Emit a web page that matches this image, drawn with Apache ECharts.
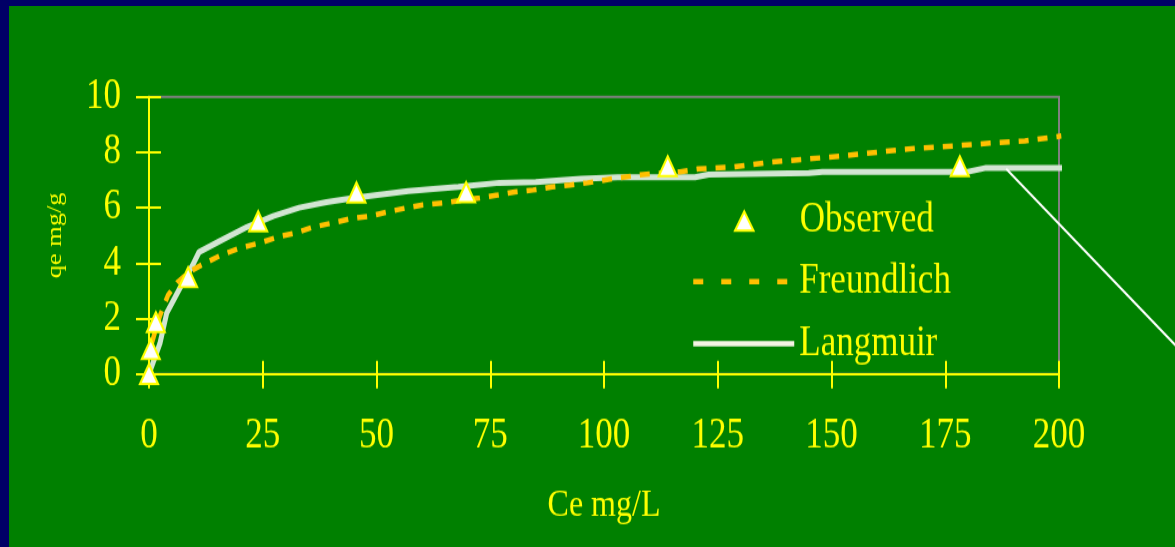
<!DOCTYPE html>
<html>
<head>
<meta charset="utf-8">
<script src="https://cdn.jsdelivr.net/npm/echarts@6/dist/echarts.min.js"></script>
<style>
  html, body { margin: 0; padding: 0; background: #000066; width: 1175px; height: 547px; overflow: hidden; }
  #wrap { position: absolute; left: 9px; top: 6px; width: 1166px; height: 541px; background: #008000; overflow: hidden; }
  #chart { width: 1166px; height: 451px; transform: scaleY(1.19956); transform-origin: 0 0; }
</style>
</head>
<body>
<div id="wrap"><div id="chart"></div></div>
<script>
// ---- data ----
const seriesNames = ['Observed', 'Freundlich', 'Langmuir'];
const xTitle = 'Ce mg/L';
const yTitle = 'qe mg/g';

const observedCe = [0, 0.4, 1.5, 8.6, 24, 45.6, 69.7, 114, 178.2];
const observedQe = [0, 0.89, 1.87, 3.49, 5.51, 6.55, 6.56, 7.5, 7.5];

const freundlichCe = [0.6, 1.3, 2.4, 4.2, 6.2, 9, 12.3, 16, 20, 24.4, 28.4, 32.5, 36, 40.3, 44.2, 48.6, 52.5, 56.7, 60.2, 64.6, 69, 72.7, 76.7, 80.4, 84.4, 88.6, 92.5, 96.4, 102, 108.6, 116.7, 120.7, 128.4, 136.7, 144.8, 152.5, 160.9, 168.6, 176.7, 184.8, 192.5, 200.5];
const freundlichQe = [1.1, 1.5, 2.1, 2.85, 3.3, 3.7, 4.0, 4.3, 4.55, 4.73, 4.95, 5.1, 5.3, 5.45, 5.6, 5.7, 5.85, 6.0, 6.1, 6.17, 6.28, 6.35, 6.46, 6.57, 6.64, 6.75, 6.82, 6.9, 7.05, 7.2, 7.3, 7.4, 7.47, 7.65, 7.76, 7.87, 8.02, 8.15, 8.23, 8.33, 8.41, 8.59];

const langmuirCe = [0, 2.4, 3.9, 6.8, 9.5, 11, 15.6, 21.5, 27.3, 33, 39, 45, 57, 68, 77, 85, 95, 103, 120, 123, 145, 148, 180, 184, 203];
const langmuirQe = [0, 1.1, 2.2, 3.1, 3.9, 4.4, 4.8, 5.3, 5.7, 6.0, 6.2, 6.35, 6.6, 6.75, 6.9, 6.93, 7.05, 7.1, 7.1, 7.2, 7.25, 7.3, 7.3, 7.44, 7.44];

// callout line anchored in data space (starts on the Langmuir plateau)
const calloutLine = [[188.4, 7.4], [232, -0.06]];

const xMin = 0, xMax = 200, xStep = 25;
const yMin = 0, yMax = 10, yStep = 2;

// ---- chart ----
const zip = (a, b) => a.map((v, i) => [v, b[i]]);
const FONT = "'Liberation Serif', 'Times New Roman', serif";
const YELLOW = '#ffff00';

const chart = echarts.init(document.getElementById('chart'), null, { renderer: 'canvas' });

const legendBase = {
  orient: 'vertical', padding: 0, itemWidth: 101, selectedMode: false,
  textStyle: { color: YELLOW, fontSize: 35, fontFamily: FONT, lineHeight: 40 }
};

const baseX = { type: 'value', min: xMin, max: xMax, interval: xStep, position: 'bottom', splitLine: { show: false } };
const baseY = { type: 'value', min: yMin, max: yMax, interval: yStep, position: 'left', splitLine: { show: false } };

chart.setOption({
  animation: false,
  backgroundColor: 'transparent',
  grid: { left: 140, right: 116, top: 75.8, bottom: 144.3, show: true, borderColor: '#808080', borderWidth: 2, backgroundColor: 'transparent' },
  xAxis: [
    Object.assign({}, baseX, {
      axisLine: { show: true, onZero: false, lineStyle: { color: YELLOW, width: 2 } },
      axisTick: { show: true, inside: false, length: 12, lineStyle: { color: YELLOW, width: 2 } },
      axisLabel: { color: YELLOW, fontSize: 35, fontFamily: FONT, margin: 35 },
      name: xTitle, nameLocation: 'middle', nameGap: 94,
      nameTextStyle: { color: YELLOW, fontSize: 32, fontFamily: FONT }
    }),
    Object.assign({}, baseX, {
      axisLine: { show: false, onZero: false },
      axisTick: { show: true, inside: true, length: 11, lineStyle: { color: YELLOW, width: 2 } },
      axisLabel: { show: false }
    })
  ],
  yAxis: [
    Object.assign({}, baseY, {
      axisLine: { show: true, onZero: false, lineStyle: { color: YELLOW, width: 2 } },
      axisTick: { show: true, inside: false, length: 13, lineStyle: { color: YELLOW, width: 2 } },
      axisLabel: { color: YELLOW, fontSize: 35, fontFamily: FONT, margin: 28 },
      name: yTitle, nameLocation: 'middle', nameRotate: 90, nameGap: 83,
      nameTextStyle: { color: YELLOW, fontSize: 22, fontFamily: FONT }
    }),
    Object.assign({}, baseY, {
      axisLine: { show: false, onZero: false },
      axisTick: { show: true, inside: true, length: 12, lineStyle: { color: YELLOW, width: 2 } },
      axisLabel: { show: false }
    })
  ],
  legend: [
    Object.assign({}, legendBase, {
      left: 725, top: 159.2, itemHeight: 16,
      data: [{ name: seriesNames[0], icon: 'path://M10,0L20,17.3L0,17.3Z', itemStyle: { color: '#ffffff', borderColor: YELLOW, borderWidth: 2 } }]
    }),
    Object.assign({}, legendBase, {
      left: 682, top: 209.8, itemHeight: 14,
      data: [{ name: seriesNames[1], itemStyle: { opacity: 0 }, lineStyle: { type: [10, 18], width: 4.5, color: '#ffc000' } }]
    }),
    Object.assign({}, legendBase, {
      left: 682, top: 261.5, itemHeight: 14,
      data: [{ name: seriesNames[2], itemStyle: { opacity: 0 }, lineStyle: { width: 4.5, color: '#f4f4e4' } }]
    })
  ],
  series: [
    {
      name: seriesNames[2], type: 'line', xAxisIndex: 0, yAxisIndex: 0,
      data: zip(langmuirCe, langmuirQe), symbol: 'none', clip: false, z: 2,
      lineStyle: { color: '#d2e5d2', width: 5 }, itemStyle: { color: '#d2e5d2' }
    },
    {
      name: seriesNames[1], type: 'line', xAxisIndex: 0, yAxisIndex: 0,
      data: zip(freundlichCe, freundlichQe), symbol: 'none', clip: false, z: 3,
      lineStyle: { color: '#ffc000', width: 4.5, type: [10, 9], cap: 'butt' }, itemStyle: { color: '#ffc000' }
    },
    {
      name: seriesNames[0], type: 'scatter', xAxisIndex: 0, yAxisIndex: 0,
      data: zip(observedCe, observedQe), symbol: 'triangle', symbolSize: [18, 16.5], clip: false, z: 4,
      itemStyle: { color: '#ffffff', borderColor: YELLOW, borderWidth: 2, opacity: 1 }
    }
  ]
});

// callout line, positioned through the axes' scales
const p1 = chart.convertToPixel({ xAxisIndex: 0, yAxisIndex: 0 }, calloutLine[0]);
const p2 = chart.convertToPixel({ xAxisIndex: 0, yAxisIndex: 0 }, calloutLine[1]);
chart.setOption({
  graphic: [{
    type: 'line', silent: true, z: 10,
    shape: { x1: p1[0], y1: p1[1], x2: p2[0], y2: p2[1] },
    style: { stroke: '#ffffff', lineWidth: 2 }
  }]
});
</script>
</body>
</html>
